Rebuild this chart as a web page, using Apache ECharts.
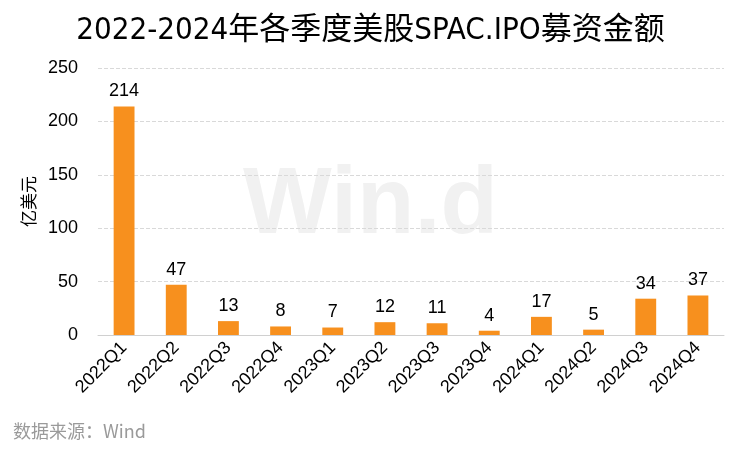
<!DOCTYPE html>
<html><head><meta charset="utf-8">
<script src="https://cdn.jsdelivr.net/npm/echarts@6/dist/echarts.min.js"></script>
<style>html,body{margin:0;padding:0;background:#fff}#c{width:741px;height:452px}</style>
</head><body><div id="c"></div>
<script>
const categories = ['2022Q1','2022Q2','2022Q3','2022Q4','2023Q1','2023Q2','2023Q3','2023Q4','2024Q1','2024Q2','2024Q3','2024Q4'];
const values = [214,47,13,8,7,12,11,4,17,5,34,37];
const yTicks = [0,50,100,150,200,250];
const chart = echarts.init(document.getElementById('c'));
chart.setOption({
  backgroundColor:'#fff',
  animation:false,
  title:{text:'2022-2024年各季度美股SPAC.IPO募资金额',left:'center',top:10,
    textStyle:{fontFamily:'"Liberation Sans Narrow","DejaVu Sans Condensed","Noto Sans CJK SC"',fontSize:31,fontWeight:'normal',color:'#000'}},
  graphic:[
    {type:'text',left:'center',top:160,z:-10,style:{text:'Win.d',fontSize:94,fontWeight:'bold',fontFamily:'Arial, "Liberation Sans"',fill:'#f1f1f1'}},
    {type:'text',left:13,top:422,style:{text:'数据来源：Wind',fontSize:18,fontFamily:'"Noto Sans CJK SC"',fill:'#9a9a9a'}}
  ],
  grid:{left:98,right:17,top:68,bottom:117},
  xAxis:{type:'category',data:categories,
    axisLine:{lineStyle:{color:'#d0d0d0'}},axisTick:{show:false},
    axisLabel:{rotate:45,fontSize:18,color:'#000',fontFamily:'Arial, Liberation Sans',margin:10}},
  yAxis:{type:'value',min:0,max:250,interval:50,
    name:'亿美元',nameLocation:'middle',nameGap:60,nameRotate:90,
    nameTextStyle:{fontSize:17,color:'#000',fontFamily:'"Noto Sans CJK SC"'},
    axisLabel:{fontSize:18,color:'#000',fontFamily:'Arial, Liberation Sans',margin:20,
      formatter:v=>yTicks.includes(v)?String(v):''},
    splitLine:{lineStyle:{type:'dashed',color:'#d9d9d9'}},axisLine:{show:false},axisTick:{show:false}},
  series:[{type:'bar',data:values,barWidth:'40%',itemStyle:{color:'#F7901E'},
    label:{show:true,position:'top',fontSize:18,color:'#000',fontFamily:'Arial, Liberation Sans',distance:6}}]
});
</script></body></html>
